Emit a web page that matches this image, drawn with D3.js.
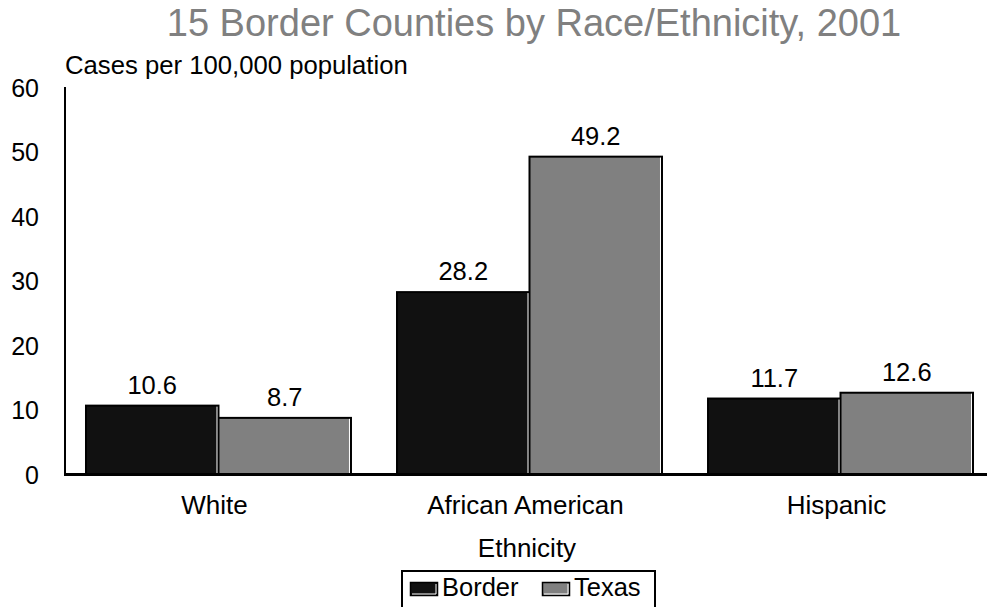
<!DOCTYPE html>
<html>
<head>
<meta charset="utf-8">
<script src="https://cdn.jsdelivr.net/npm/d3@7"></script>
<style>
  html, body { margin: 0; padding: 0; background: #fff; }
  svg { display: block; font-family: "Liberation Sans", Arial, sans-serif; }
</style>
</head>
<body>
<svg id="chart" width="987" height="607"></svg>
<script>
// Rates by race/ethnicity, cases per 100,000 population
const categories = ["White", "African American", "Hispanic"];
const seriesNames = ["Border", "Texas"];
const borderValues = [10.6, 28.2, 11.7];
const texasValues = [8.7, 49.2, 12.6];
const yTicks = [0, 10, 20, 30, 40, 50, 60];

const seriesColors = { Border: "#111111", Texas: "#808080" };
const valuesBySeries = { Border: borderValues, Texas: texasValues };

const svg = d3.select("#chart");

const x0 = d3.scaleBand()
  .domain(categories)
  .range([65, 994])
  .paddingInner(0.148)
  .paddingOuter(0.0675);

const x1 = d3.scaleBand()
  .domain(seriesNames)
  .range([0, x0.bandwidth()]);

const y = d3.scaleLinear().domain([0, 60]).range([474, 87]);

// Title
svg.append("text")
  .attr("x", 534)
  .attr("y", 36)
  .attr("text-anchor", "middle")
  .attr("font-size", 38)
  .attr("fill", "#808080")
  .text("15 Border Counties by Race/Ethnicity, 2001");

// Y axis title
svg.append("text")
  .attr("x", 65)
  .attr("y", 74)
  .attr("font-size", 25.7)
  .attr("fill", "#000")
  .text("Cases per 100,000 population");

// Y axis (labels only, no tick marks)
const yAxis = svg.append("g")
  .attr("transform", "translate(65,0)")
  .call(d3.axisLeft(y).tickValues(yTicks).tickSize(0).tickPadding(26).tickFormat(d3.format("d")));
yAxis.select(".domain").remove();
yAxis.selectAll("text")
  .attr("font-size", 25)
  .attr("font-family", "Liberation Sans, Arial, sans-serif")
  .attr("fill", "#000")
  .attr("dy", "0.36em");

// Bars
const groups = svg.append("g")
  .selectAll("g")
  .data(categories)
  .join("g")
  .attr("transform", d => `translate(${x0(d)},0)`);

const barData = (cat, i) => seriesNames.map(s => ({ cat, series: s, value: valuesBySeries[s][i] }));

groups.each(function (cat, i) {
  const g = d3.select(this);
  const data = barData(cat, i);
  g.selectAll("rect.bar")
    .data(data)
    .join("rect")
    .attr("class", "bar")
    .attr("x", d => x1(d.series))
    .attr("y", d => y(d.value))
    .attr("width", x1.bandwidth())
    .attr("height", d => y(0) - y(d.value))
    .attr("fill", d => seriesColors[d.series])
    .attr("stroke", "#000")
    .attr("stroke-width", 2);
  // thin light edge on the right side of each bar
  g.selectAll("line.edge")
    .data(data)
    .join("line")
    .attr("class", "edge")
    .attr("x1", d => x1(d.series) + x1.bandwidth() - 1.5)
    .attr("x2", d => x1(d.series) + x1.bandwidth() - 1.5)
    .attr("y1", d => y(d.value) + 1)
    .attr("y2", y(0))
    .attr("stroke", "#fff")
    .attr("stroke-width", 1);
  g.selectAll("text.val")
    .data(data)
    .join("text")
    .attr("class", "val")
    .attr("x", d => x1(d.series) + x1.bandwidth() / 2)
    .attr("y", d => y(d.value) - 12)
    .attr("text-anchor", "middle")
    .attr("font-size", 25.5)
    .attr("fill", "#000")
    .text(d => d3.format(".1f")(d.value));
});

// Axis lines
svg.append("line")
  .attr("x1", 65).attr("x2", 65)
  .attr("y1", y(60)).attr("y2", y(0))
  .attr("stroke", "#000").attr("stroke-width", 2);
svg.append("line")
  .attr("x1", 64).attr("x2", 987)
  .attr("y1", y(0) + 0.5).attr("y2", y(0) + 0.5)
  .attr("stroke", "#000").attr("stroke-width", 3);

// Category labels
svg.append("g")
  .selectAll("text")
  .data(categories)
  .join("text")
  .attr("x", d => x0(d) + x0.bandwidth() / 2 - 4)
  .attr("y", 514)
  .attr("text-anchor", "middle")
  .attr("font-size", 26)
  .attr("fill", "#000")
  .text(d => d);

// X axis title
svg.append("text")
  .attr("x", 527)
  .attr("y", 557)
  .attr("text-anchor", "middle")
  .attr("font-size", 26)
  .attr("fill", "#000")
  .text("Ethnicity");

// Legend
const legend = svg.append("g");
legend.append("rect")
  .attr("x", 402).attr("y", 571)
  .attr("width", 253).attr("height", 50)
  .attr("fill", "#fff")
  .attr("stroke", "#000")
  .attr("stroke-width", 2);

const legendX = { Border: 410, Texas: 542 };
const items = legend.selectAll("g.item")
  .data(seriesNames)
  .join("g")
  .attr("class", "item")
  .attr("transform", d => `translate(${legendX[d]},582)`);
items.append("rect")
  .attr("x", 0.5).attr("y", 0.5)
  .attr("width", 27).attr("height", 13)
  .attr("fill", d => seriesColors[d])
  .attr("stroke", "#000")
  .attr("stroke-width", 1.5);
items.append("polyline")
  .attr("points", "26,2 26,12 2,12")
  .attr("fill", "none")
  .attr("stroke", "#fff")
  .attr("stroke-width", 1);
items.append("text")
  .attr("x", 32)
  .attr("y", 14)
  .attr("font-size", 25.5)
  .attr("fill", "#000")
  .text(d => d);
</script>
</body>
</html>
